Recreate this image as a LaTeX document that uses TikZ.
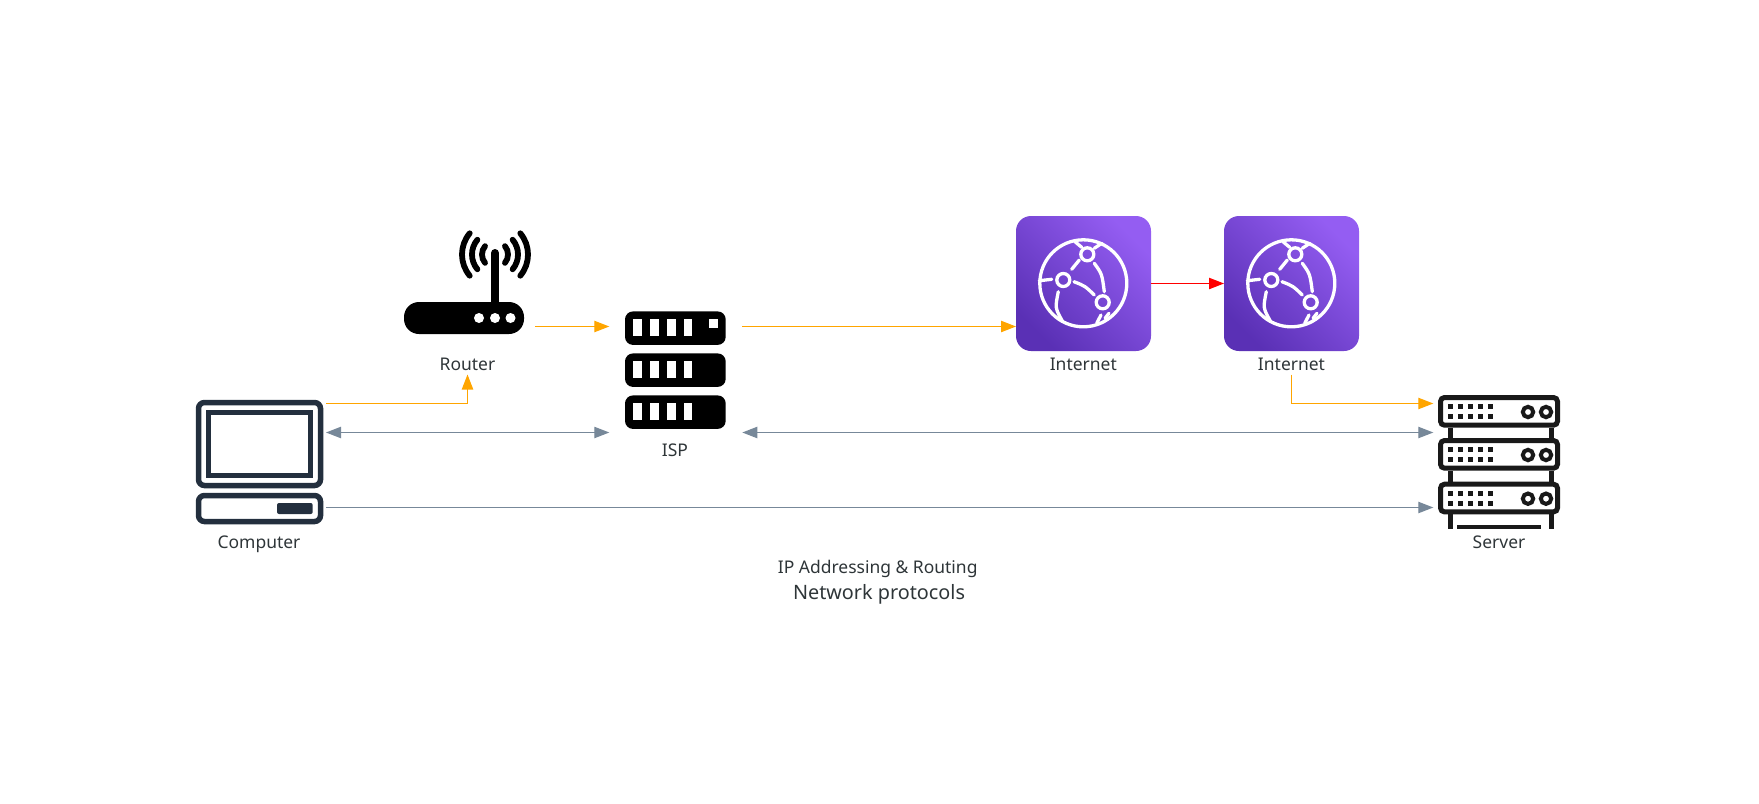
\documentclass[tikz,border=0pt]{standalone}
\usepackage{fontspec}
\setmainfont{Noto Sans}
\usetikzlibrary{arrows.meta}
\definecolor{flowgrey}{HTML}{778899}
\definecolor{floworange}{HTML}{FFA500}
\definecolor{pcnavy}{HTML}{232F3E}
\definecolor{cloudlow}{HTML}{5A30B5}
\definecolor{cloudhigh}{HTML}{945DF2}
\definecolor{labelgrey}{HTML}{2E3538}
\def\px{.75pt}
\tikzset{
	iconbox/.style={inner sep=0pt, outer sep=0pt},
	caption/.style={inner sep=0pt, outer sep=0pt, text=labelgrey, font=\fontsize{13.1}{15}\selectfont, minimum height=23*\px, text height=14pt, text depth=2.5pt},
	flow/.style={floworange, line width=.9pt, -{Triangle[length=11.25pt,width=8.5pt]}},
	both/.style={flowgrey, line width=.9pt, {Triangle[length=11.25pt,width=8.5pt]}-{Triangle[length=11.25pt,width=8.5pt]}},
	plain/.style={flowgrey, line width=.9pt, -{Triangle[length=11.25pt,width=8.5pt]}},
	hot/.style={red, line width=.9pt, -{Triangle[length=11.25pt,width=8.5pt]}},
	globe/.style={draw=white, line width=3.3*\px, line cap=round},
}
\begin{document}
\begin{tikzpicture}[x=\px, y=-\px]
	\useasboundingbox (0,0) rectangle (1759,803);
	% lanes for the connectors
	\coordinate (laneTop) at (0,326.5);
	\coordinate (laneUp) at (0,403.5);
	\coordinate (laneBoth) at (0,432.5);
	\coordinate (laneLow) at (0,507.5);
	\coordinate (laneRed) at (0,283.5);

	% computer
	\node[iconbox, minimum width=130*\px, minimum height=124*\px] (computer) at (261,462) {};
	\draw[pcnavy, line width=5.5*\px, rounded corners=6*\px] (198.5,402.5) rectangle (320.5,485.5);
	\draw[pcnavy, line width=5.5*\px, rounded corners=6*\px] (198.5,495.5) rectangle (320.5,521.5);
	\draw[pcnavy, line width=5.5*\px] (208.5,412.5) rectangle (310.5,475.5);
	\fill[pcnavy, rounded corners=2*\px] (277,503) rectangle (312.7,514);

	% router
	\node[iconbox, minimum width=131*\px, minimum height=104*\px] (router) at (469.5,283) {};
	\fill[rounded corners=15*\px] (404,302) rectangle (524,334);
	\fill[white] (479,318) circle[radius=5] (495,318) circle[radius=5] (510.5,318) circle[radius=5];
	\draw[line width=8*\px, line cap=round] (495,253) -- (495,304);
	\foreach \wave in {13,23,33}
	{
		\draw[line width=5.8*\px, line cap=round] (495,254.5) ++(40:\wave) arc[start angle=40, end angle=-40, radius=\wave];
		\draw[line width=5.8*\px, line cap=round] (495,254.5) ++(140:\wave) arc[start angle=140, end angle=220, radius=\wave];
	}

	% isp
	\node[iconbox, minimum width=133*\px, minimum height=118*\px] (isp) at (675.8,370) {};
	\foreach \rowy in {311.4,353.4,395.4}
	{
		\fill[rounded corners=8*\px] (625,\rowy) rectangle (725.7,\rowy+33.5);
		\foreach \slotx in {633,650,667,683.5}
			\fill[white] (\slotx,\rowy+8) rectangle (\slotx+8.7,\rowy+25);
	}
	\fill[white] (709,319.4) rectangle (718,328.4);

	% internet
	\foreach \cx/\cname in {1016/cloudA,1224/cloudB}
	{
		\node[iconbox, minimum width=135*\px, minimum height=135*\px] (\cname) at (\cx+67.5,283.5) {};
		\begin{scope}[shift={(\cx,216)}]
			\shade[left color=cloudlow, right color=cloudhigh, shading angle=135, rounded corners=15*\px] (0,0) rectangle (135,135);
			\draw[globe] (67.3,67.3) circle[radius=43.5];
			\draw[globe] (71.3,38.3) circle[radius=6.5] (47.3,64) circle[radius=6.5] (86.7,86.3) circle[radius=6.5];
			\draw[globe] (63.3,44) .. controls (59,48) .. (55.7,53.3);
			\draw[globe] (78.3,47.3) .. controls (86,58) .. (88.3,75.7);
			\draw[globe] (58,65.7) .. controls (69,70) .. (78.3,79);
			\draw[globe] (42.3,75.7) .. controls (39,92) .. (46.7,105.7);
			\draw[globe] (23.3,64.7) -- (35.7,63.3);
			\draw[globe] (59,25.7) -- (65.7,31.3);
			\draw[globe] (78.3,32.3) -- (85.7,27.3);
			\draw[globe] (85,99) -- (80.7,107.3);
			\draw[globe] (93,97.3) -- (89,102.3);
		\end{scope}
	}

	% server
	\node[iconbox, minimum width=133*\px, minimum height=134*\px] (server) at (1499.8,462) {};
	\foreach \rowy in {395,438,481.7}
	{
		\draw[black!90, line width=5*\px, rounded corners=4*\px] (1440.5,\rowy+2.5) rectangle (1557.5,\rowy+30.2);
		\foreach \dotx in {1450,1460,1470,1480,1490}
			\foreach \doty in {11.7,21.7}
				\fill[black!90] (\dotx-2.5,\rowy+\doty-2.5) rectangle (\dotx+2.5,\rowy+\doty+2.5);
		\draw[black!90, line width=4*\px] (1528,\rowy+17) circle[radius=5.2] (1546,\rowy+17) circle[radius=5.2];
	}
	\foreach \legx in {1450,1551}
	{
		\draw[black!90, line width=5*\px] (\legx,427.5) -- (\legx,438);
		\draw[black!90, line width=5*\px] (\legx,471) -- (\legx,481.7);
		\draw[black!90, line width=5*\px] (\legx,514) -- (\legx,529);
	}
	\fill[black!90] (1457,525) rectangle (1541,529);

	% labels
	\node[caption] (computerlabel) at (259,541) {Computer};
	\node[caption] (routerlabel) at (467.5,363) {Router};
	\node[caption] (isplabel) at (675,449.3) {ISP};
	\node[caption] (cloudlabelA) at (1083.3,363) {Internet};
	\node[caption] (cloudlabelB) at (1291.5,363) {Internet};
	\node[caption] (serverlabel) at (1499,541) {Server};
	\node[caption] (topiclabel) at (877.7,566.3) {IP Addressing \& Routing};
	\node[caption, font=\fontsize{14.85}{17}\selectfont] (titlelabel) at (879,592) {Network protocols};

	% connectors
	\draw[flow] (router.east |- laneTop) -- (isp.west |- laneTop);
	\draw[flow] (isp.east |- laneTop) -- (cloudA.west |- laneTop);
	\draw[flow] (computer.east |- laneUp) -| (routerlabel.south);
	\draw[flow] (cloudlabelB.south) |- (server.west |- laneUp);
	\draw[both] (computer.east |- laneBoth) -- (isp.west |- laneBoth);
	\draw[both] (isp.east |- laneBoth) -- (server.west |- laneBoth);
	\draw[plain] (computer.east |- laneLow) -- (server.west |- laneLow);
	\draw[hot] (cloudA.east |- laneRed) -- (cloudB.west |- laneRed);
\end{tikzpicture}
\end{document}
